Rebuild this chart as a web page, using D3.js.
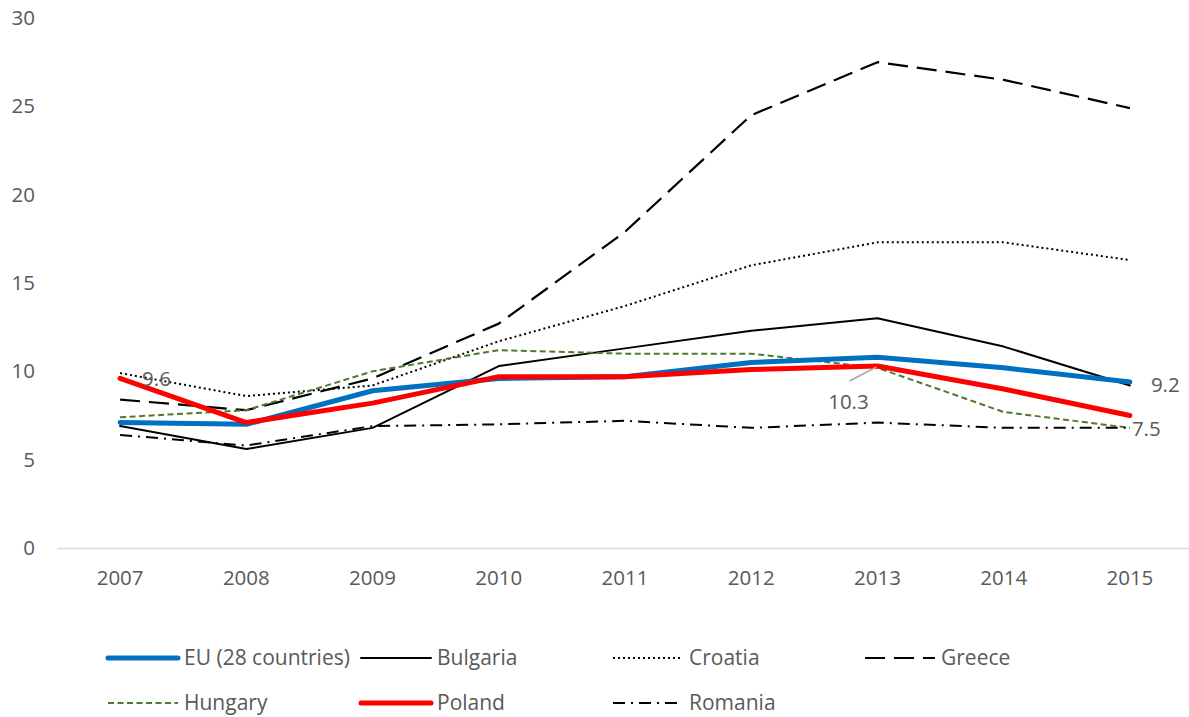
<!DOCTYPE html>
<html>
<head>
<meta charset="utf-8">
<script src="https://cdn.jsdelivr.net/npm/d3@7"></script>
<style>
  html, body { margin: 0; padding: 0; background: #fff; }
  svg text { font-family: "Open Sans", "Noto Sans", sans-serif; fill: #595959; }
</style>
</head>
<body>
<svg id="chart" width="1189" height="717"></svg>
<script>
// Unemployment rate (%), 2007–2015
const years = ["2007", "2008", "2009", "2010", "2011", "2012", "2013", "2014", "2015"];
const yTicks = [0, 5, 10, 15, 20, 25, 30];

const euValues       = [7.1, 7.0, 8.9, 9.6, 9.7, 10.5, 10.8, 10.2, 9.4];
const bulgariaValues = [6.9, 5.6, 6.8, 10.3, 11.3, 12.3, 13.0, 11.4, 9.2];
const croatiaValues  = [9.9, 8.6, 9.2, 11.7, 13.7, 16.0, 17.3, 17.3, 16.3];
const greeceValues   = [8.4, 7.8, 9.6, 12.7, 17.9, 24.5, 27.5, 26.5, 24.9];
const hungaryValues  = [7.4, 7.8, 10.0, 11.2, 11.0, 11.0, 10.2, 7.7, 6.8];
const polandValues   = [9.6, 7.1, 8.2, 9.7, 9.7, 10.1, 10.3, 9.0, 7.5];
const romaniaValues  = [6.4, 5.8, 6.9, 7.0, 7.2, 6.8, 7.1, 6.8, 6.8];

const seriesNames = ["EU (28 countries)", "Bulgaria", "Croatia", "Greece", "Hungary", "Poland", "Romania"];

const series = [
  { name: seriesNames[0], values: euValues,       color: "#0070C0", width: 5,   dash: null },
  { name: seriesNames[1], values: bulgariaValues, color: "#000000", width: 2,   dash: null },
  { name: seriesNames[2], values: croatiaValues,  color: "#000000", width: 2,   dash: "2,3" },
  { name: seriesNames[3], values: greeceValues,   color: "#000000", width: 2.2, dash: "20,9" },
  { name: seriesNames[4], values: hungaryValues,  color: "#4E7A2E", width: 2,   dash: "6,3.5" },
  { name: seriesNames[5], values: polandValues,   color: "#FF0000", width: 5,   dash: null },
  { name: seriesNames[6], values: romaniaValues,  color: "#000000", width: 2,   dash: "12,6,2,6" }
];

// Drawing order: thin lines first, the two highlighted series on top
const drawOrder = [1, 2, 3, 4, 6, 0, 5];

const svg = d3.select("#chart");

const x = d3.scaleBand().domain(years).range([57, 1193]);
const xc = d => x(d) + x.bandwidth() / 2;
const y = d3.scaleLinear().domain([0, 30]).range([548, 18]);

// Y axis labels (no axis line)
const yAxis = d3.axisLeft(y).tickValues(yTicks).tickSize(0).tickPadding(0);
const gy = svg.append("g").attr("transform", "translate(35,0)").call(yAxis);
gy.select(".domain").remove();
gy.selectAll("text").style("font-size", "20.5px").attr("fill", "#595959");

// X axis
const xAxis = d3.axisBottom(x).tickSize(0).tickPadding(22);
const gx = svg.append("g").attr("transform", "translate(0,548)").call(xAxis);
gx.select(".domain").attr("stroke", "#D9D9D9").attr("stroke-width", 1.5);
gx.selectAll("text").style("font-size", "20.5px").attr("fill", "#595959");

// Lines
const line = d3.line()
  .x((d, i) => xc(years[i]))
  .y(d => y(d));

drawOrder.forEach(i => {
  const s = series[i];
  svg.append("path")
    .datum(s.values)
    .attr("d", line)
    .attr("fill", "none")
    .attr("stroke", s.color)
    .attr("stroke-width", s.width)
    .attr("stroke-linejoin", "round")
    .attr("stroke-linecap", s.dash ? "butt" : "round")
    .attr("stroke-dasharray", s.dash);
});

// Data labels
const labelStyle = sel => sel.style("font-size", "20.5px").attr("fill", "#404040");

// Poland 2007
svg.append("text")
  .attr("x", xc("2007") + 22).attr("y", y(polandValues[0]) + 8)
  .text(polandValues[0].toFixed(1)).call(labelStyle);

// Poland 2013 with leader line
const p13x = xc("2013"), p13y = y(polandValues[6]);
svg.append("line")
  .attr("x1", p13x - 1).attr("y1", p13y + 1)
  .attr("x2", p13x - 28).attr("y2", p13y + 15)
  .attr("stroke", "#A6A6A6").attr("stroke-width", 1.5);
svg.append("text")
  .attr("x", p13x - 29).attr("y", p13y + 43)
  .attr("text-anchor", "middle")
  .text(polandValues[6].toFixed(1)).call(labelStyle);

// Bulgaria 2015
svg.append("text")
  .attr("x", xc("2015") + 21).attr("y", y(bulgariaValues[8]) + 7)
  .text(bulgariaValues[8].toFixed(1)).call(labelStyle);

// Poland 2015
svg.append("text")
  .attr("x", xc("2015") + 2).attr("y", y(polandValues[8]) + 20)
  .text(polandValues[8].toFixed(1)).call(labelStyle);

// Legend
const legendCols = [108, 361, 613, 865];
const legendRows = [658, 703];
series.forEach((s, i) => {
  const col = i % 4, row = Math.floor(i / 4);
  const lx = legendCols[col], ly = legendRows[row];
  const g = svg.append("g");
  g.append("line")
    .attr("x1", lx).attr("x2", lx + 70)
    .attr("y1", ly).attr("y2", ly)
    .attr("stroke", s.color)
    .attr("stroke-width", s.width)
    .attr("stroke-linecap", s.dash ? "butt" : "round")
    .attr("stroke-dasharray", s.dash);
  g.append("text")
    .attr("x", lx + 76).attr("y", ly + 7)
    .style("font-size", "21px")
    .attr("fill", "#595959")
    .text(s.name);
});
</script>
</body>
</html>
